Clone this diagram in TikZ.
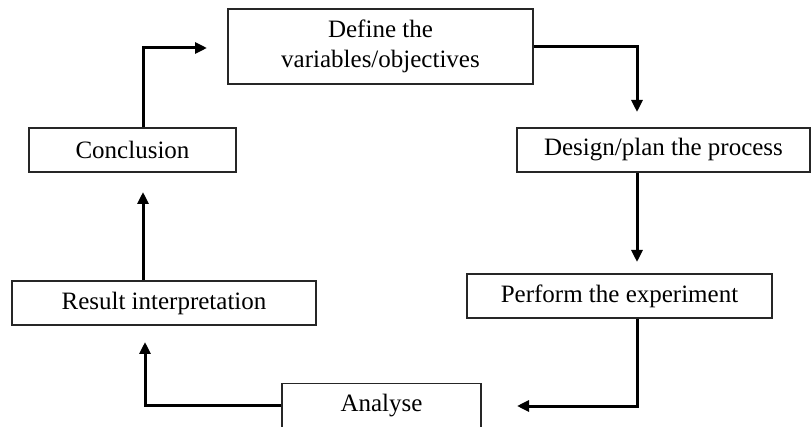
\documentclass[tikz,border=0pt]{standalone}
\usepackage{fontspec}
\setmainfont{Liberation Serif}
\usetikzlibrary{arrows.meta}
\begin{document}
\begin{tikzpicture}[x=1pt,y=-1pt,
  box/.style={draw=black!85, line width=1.4pt, inner sep=0pt, minimum height=44pt,
    font=\fontsize{25}{30}\selectfont, align=center},
  arr/.style={line width=3pt, -{Triangle[length=12pt,width=11pt]}}]
\useasboundingbox (0,0) rectangle (811,427);
\node[box, minimum width=305pt, minimum height=75pt] (define) at (380.5,46.5) {Define the\\variables/objectives};
\node[box, minimum width=293pt] (design) at (663.5,150) {Design/plan the process};
\node[box, minimum width=305pt] (perform) at (619.5,296) {Perform the experiment};
\node[box, minimum width=199pt] (analyse) at (381.5,405.5) {Analyse};
\node[box, minimum width=304pt] (result) at (164,303) {Result interpretation};
\node[box, minimum width=207pt] (conclusion) at (132.5,150) {Conclusion};
\coordinate (c1) at (637,112);
\coordinate (c2) at (637,262);
\coordinate (c3) at (517,406);
\coordinate (c4) at (145,342);
\coordinate (c5) at (143,192);
\coordinate (c6) at (207,48);
\draw[arr] (define.east) -| (c1);
\draw[arr] (c1 |- design.south) -- (c2);
\draw[arr] (c1 |- perform.south) |- (c3);
\draw[arr] (analyse.west) -| (c4);
\draw[arr] (c5 |- result.north) -- (c5);
\draw[arr] (c5 |- conclusion.north) |- (c6);
\end{tikzpicture}
\end{document}
